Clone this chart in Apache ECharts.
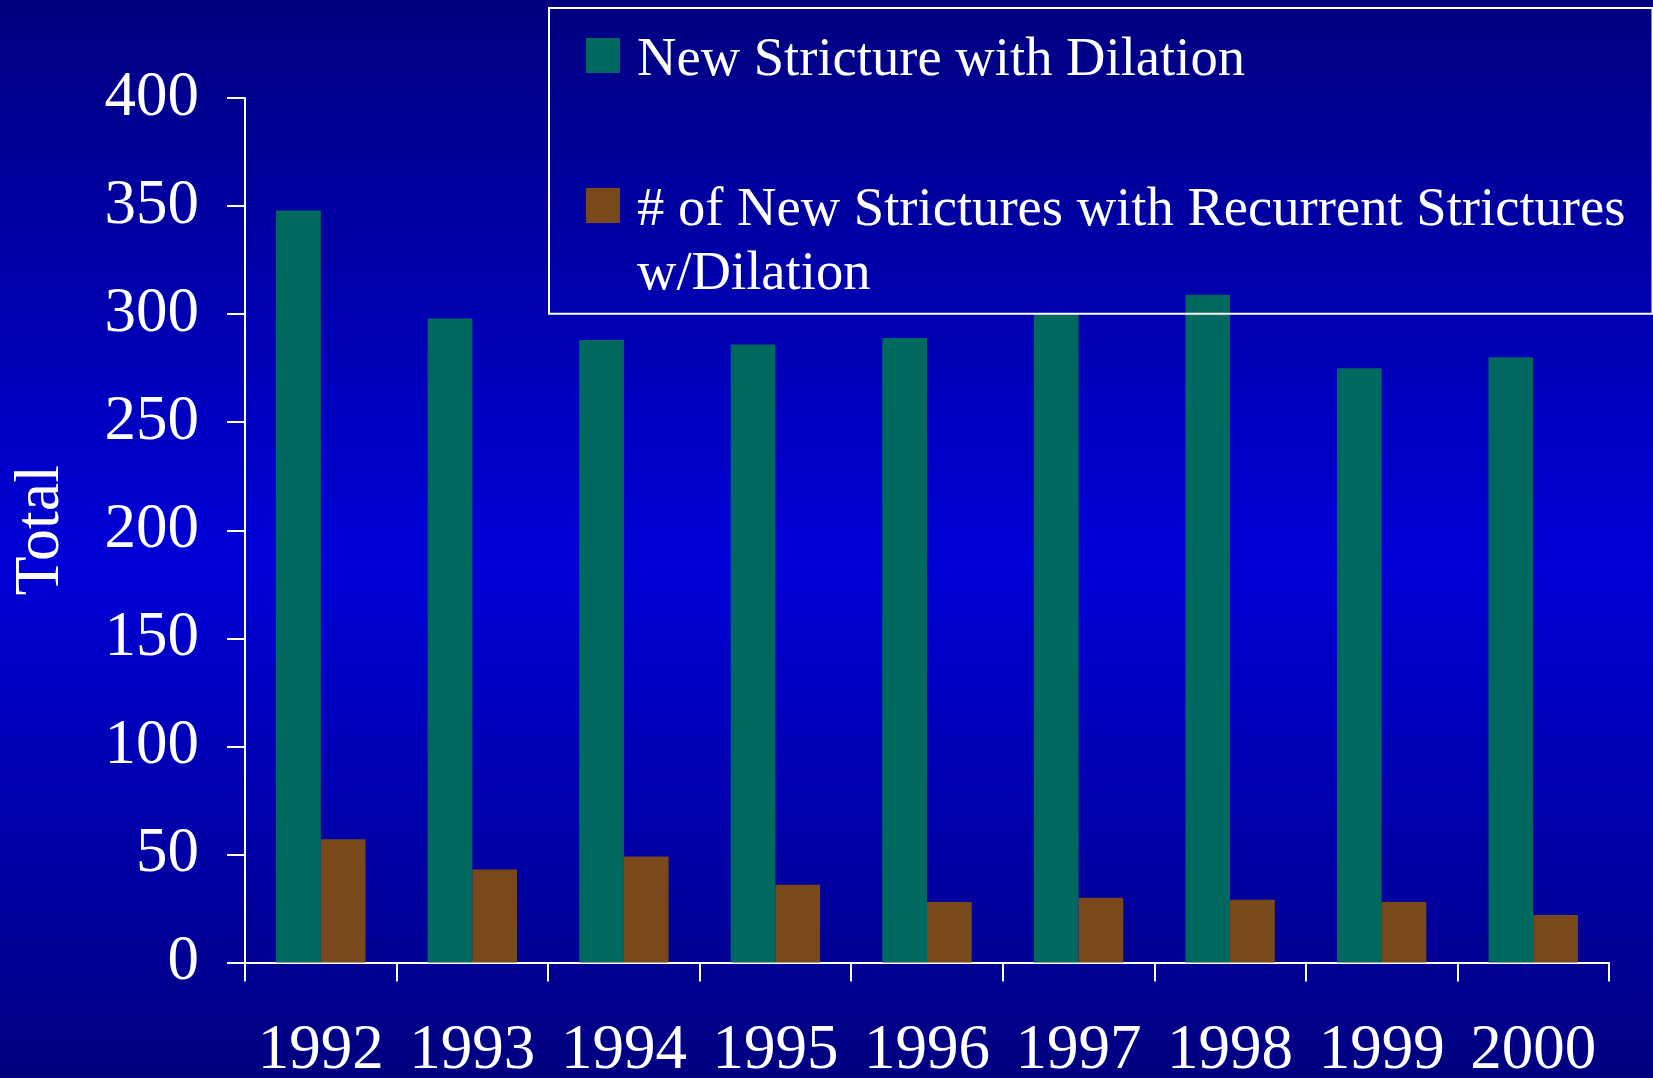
<!DOCTYPE html>
<html>
<head>
<meta charset="utf-8">
<title>Strictures with Dilation, 1992–2000</title>
<script src="https://cdn.jsdelivr.net/npm/echarts@6/dist/echarts.min.js"></script>
<style>
  html, body { margin: 0; padding: 0; width: 100%; height: 100%; overflow: hidden; }
  #chart { width: 1653px; height: 1078px; }
</style>
</head>
<body>
<div id="chart"></div>
<script>
// Yearly counts
const years = ['1992', '1993', '1994', '1995', '1996', '1997', '1998', '1999', '2000'];
const newStrictureDilation = [348, 298, 288, 286, 289, 300, 309, 275, 280];
const recurrentDilation = [57, 43, 49, 36, 28, 30, 29, 28, 22];

const seriesNames = [
  'New Stricture with Dilation',
  '# of New Strictures with Recurrent Strictures\nw/Dilation'
];
const yRange = { min: 0, max: 400, step: 50 };

const serif = "'Liberation Serif', 'Times New Roman', serif";
const white = '#ffffff';

// Legend entries: a spacer line on top keeps the marker level with
// the first text line, even when the entry wraps onto two lines.
function legendLabel(name) {
  const lines = name.split('\n');
  const spacer = lines.length > 1 ? '{s2| }' : '{s1| }';
  return spacer + '\n' + lines.map(l => '{t|' + l + '}').join('\n');
}

const chart = echarts.init(document.getElementById('chart'));

chart.setOption({
  animation: false,
  backgroundColor: {
    type: 'linear', x: 0, y: 0, x2: 0, y2: 1,
    colorStops: [
      { offset: 0, color: '#000080' },
      { offset: 0.52, color: '#0000d8' },
      { offset: 1, color: '#000080' }
    ]
  },
  textStyle: { fontFamily: serif },
  grid: { left: 245, right: 44, top: 98, bottom: 115.5, containLabel: false, outerBoundsMode: 'none' },
  legend: {
    left: 549,
    top: 8,
    orient: 'vertical',
    padding: [15, 27, 11.8, 37],
    itemGap: 53,
    itemWidth: 34,
    itemHeight: 35,
    borderColor: white,
    borderWidth: 2,
    icon: 'rect',
    selectedMode: false,
    formatter: legendLabel,
    textStyle: {
      color: white,
      fontFamily: serif,
      padding: [0, 0, 0, 12],
      rich: {
        t: { color: white, fontFamily: serif, fontSize: 54.6, lineHeight: 64 },
        s1: { fontSize: 1, lineHeight: 10 },
        s2: { fontSize: 1, lineHeight: 74 }
      }
    },
    data: seriesNames
  },
  xAxis: {
    type: 'category',
    data: years,
    axisLine: { lineStyle: { color: white, width: 2 } },
    axisTick: { show: true, length: 19, interval: 0, lineStyle: { color: white, width: 2 } },
    axisLabel: { color: white, fontFamily: serif, fontSize: 63, margin: 57, interval: 0 },
    splitLine: { show: false }
  },
  yAxis: {
    type: 'value',
    min: yRange.min,
    max: yRange.max,
    interval: yRange.step,
    name: 'Total',
    nameLocation: 'middle',
    nameGap: 172,
    nameTextStyle: { color: white, fontFamily: serif, fontSize: 64 },
    axisLine: { show: true, lineStyle: { color: white, width: 2 } },
    axisTick: { show: true, length: 18, lineStyle: { color: white, width: 2 } },
    axisLabel: { color: white, fontFamily: serif, fontSize: 63, margin: 46 },
    splitLine: { show: false }
  },
  series: [
    {
      name: seriesNames[0],
      type: 'bar',
      data: newStrictureDilation,
      itemStyle: { color: '#00695f' },
      barGap: '0%',
      barCategoryGap: '41%'
    },
    {
      name: seriesNames[1],
      type: 'bar',
      data: recurrentDilation,
      itemStyle: { color: '#79491c' },
      barGap: '0%',
      barCategoryGap: '41%'
    }
  ]
});
</script>
</body>
</html>
